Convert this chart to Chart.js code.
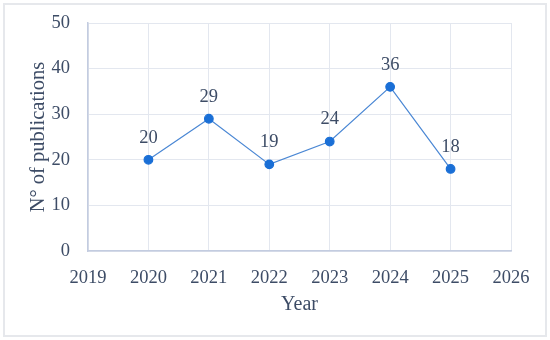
<!DOCTYPE html>
<html>
<head>
<meta charset="utf-8">
<script src="https://cdn.jsdelivr.net/npm/chart.js@4/dist/chart.umd.min.js"></script>
<style>
  body { margin: 0; background: #fff; }
  #wrap { position: relative; width: 550px; height: 340px; }
  #frame { position: absolute; left: 3px; top: 3px; width: 540px; height: 330px; border: 2px solid #e6e8ec; }
  canvas { position: absolute; left: 0; top: 0; }
</style>
</head>
<body>
<div id="wrap">
  <div id="frame"></div>
  <canvas id="mycanvas" width="550" height="340"></canvas>
</div>
<script>
// datos
const years = [2020, 2021, 2022, 2023, 2024, 2025];
const publications = [20, 29, 19, 24, 36, 18];
const yTicks = [0, 10, 20, 30, 40, 50];
const xMin = 2019, xMax = 2026;

const textColor = '#3d4c66';
const fontFam = '"Liberation Serif", "DejaVu Serif", serif';

// etiquetas encima de cada punto
const pointLabels = {
    id: 'pointLabels',
    afterDatasetsDraw(chart) {
        const ctx = chart.ctx;
        const meta = chart.getDatasetMeta(0);
        ctx.save();
        ctx.fillStyle = textColor;
        ctx.font = '18.5px ' + fontFam;
        ctx.textAlign = 'center';
        ctx.textBaseline = 'middle';
        meta.data.forEach((pt, i) => {
            ctx.fillText(String(publications[i]), pt.x, pt.y - 22);
        });
        ctx.restore();
    }
};

let ctx = document.getElementById('mycanvas');

let chart = new Chart(ctx, {
    type: 'scatter',
    data: {
        datasets: [{
            data: years.map((y, i) => ({ x: y, y: publications[i] })),
            showLine: true,
            borderColor: '#4a87d4',
            borderWidth: 1.2,
            pointBackgroundColor: '#1a6fd6',
            pointBorderColor: '#1a6fd6',
            pointRadius: 4.3,
            tension: 0
        }]
    },
    options: {
        responsive: false,
        animation: false,
        layout: { padding: { top: 23, right: 39, left: 0, bottom: 0 } },
        plugins: { legend: { display: false }, tooltip: { enabled: false } },
        scales: {
            x: {
                type: 'linear',
                min: xMin, max: xMax,
                afterBuildTicks: s => { s.ticks = []; for (let v = xMin; v <= xMax; v++) s.ticks.push({ value: v }); },
                afterFit: s => { s.height = 89; s.paddingLeft = 0; s.paddingRight = 0; },
                grid: { color: '#e3e7ef', tickLength: 0 },
                border: { color: '#c3cce0', width: 1.5 },
                ticks: { color: textColor, font: { family: fontFam, size: 18.5 }, padding: 16, callback: v => String(v) },
                title: { display: true, text: 'Year', color: textColor, font: { family: fontFam, size: 20 }, padding: { top: 0, bottom: 23 } }
            },
            y: {
                min: 0, max: 50,
                afterBuildTicks: s => { s.ticks = yTicks.map(v => ({ value: v })); },
                afterFit: s => { s.width = 88; s.paddingTop = 0; s.paddingBottom = 0; },
                grid: { color: '#e3e7ef', tickLength: 0 },
                border: { color: '#c3cce0', width: 1.5 },
                ticks: { color: textColor, font: { family: fontFam, size: 18.5 }, padding: 18 },
                title: { display: true, text: 'N° of publications', color: textColor, font: { family: fontFam, size: 20.5 }, padding: { top: 26, bottom: 0 } }
            }
        }
    },
    plugins: [pointLabels]
});
</script>
</body>
</html>
